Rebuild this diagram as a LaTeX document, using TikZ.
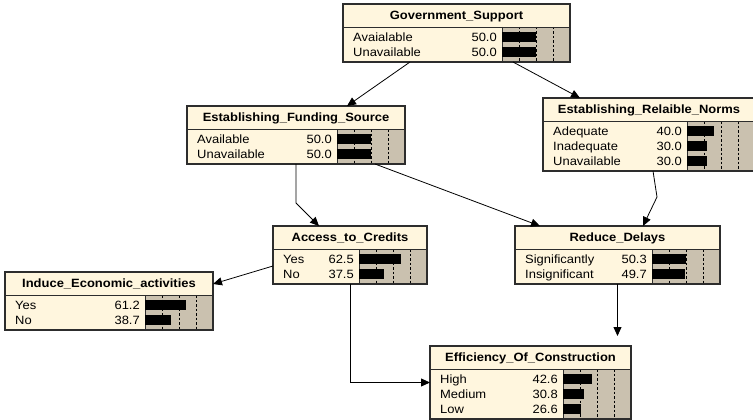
\documentclass[tikz,border=0pt]{standalone}
\usepackage{fontspec}
\setmainfont[FakeStretch=1.08]{Liberation Sans}
\usetikzlibrary{arrows.meta,calc}
\definecolor{cream}{RGB}{255,246,222}
\definecolor{barbgc}{RGB}{202,193,175}
\definecolor{edgec}{RGB}{45,45,45}
\tikzset{
  nbox/.style={fill=cream, inner sep=0pt, outer sep=0pt},
  barbg/.style={fill=barbgc},
  dashline/.style={draw=black, line width=0.6pt, dash pattern=on 2.5pt off 2pt},
  sepline/.style={draw=edgec, line width=0.8pt},
  border/.style={draw=edgec, line width=1.1pt},
  titletext/.style={inner sep=0pt, text height=8.6pt, text depth=0pt, font=\fontsize{12}{14}\selectfont\bfseries},
  labtext/.style={inner sep=0pt, text height=8.6pt, text depth=0pt, font=\fontsize{12}{14}\selectfont},
  conn/.style={draw=black, line width=0.8pt, -{Triangle[length=9pt,width=8pt]}}
}
\newcommand\netnode[7]{%
  \pgfmathsetmacro\nnH{28+15*#5}%
  \pgfmathsetmacro\nnR{#2+#4}%
  \pgfmathsetmacro\nnG{#2+#4-68}%
  \pgfmathsetmacro\nnB{#3+\nnH}%
  \pgfmathsetmacro\nnS{#3+23}%
  \node[nbox, minimum width=#4pt, minimum height=\nnH pt, anchor=north west] (#1) at (#2,#3) {};
  \fill[barbg] (\nnG,\nnS) rectangle (\nnR,\nnB);
  \foreach \f in {0.25,0.5,0.75} \draw[dashline] (\nnG+68*\f,\nnS) -- (\nnG+68*\f,\nnB);
  \draw[sepline] (#2,\nnS) -- (\nnR,\nnS);
  \draw[sepline] (\nnG,\nnS) -- (\nnG,\nnB);
  \node[titletext] at (#2+#4/2,#3+11.5) {#6};
  \foreach \lab/\val [count=\i] in {#7} {
    \pgfmathsetmacro\yy{\nnS+15*\i-5}
    \node[labtext, anchor=west] at (#2+10,\yy) {\lab};
    \node[labtext, anchor=east] at (\nnG-5,\yy) {\val};
    \fill[black] (\nnG,\yy-5) rectangle (\nnG+0.67*\val,\yy+5);
  }
  \draw[border] (#2,#3) rectangle (\nnR,\nnB);
}
\begin{document}
\begin{tikzpicture}[x=1pt,y=-1pt]
\useasboundingbox[fill=white] (0,0) rectangle (753,420);
\netnode{GS}{343}{4}{227}{2}{Government\_Support}{Avaialable/50.0,Unavailable/50.0}
\netnode{EFS}{187}{106}{218}{2}{Establishing\_Funding\_Source}{Available/50.0,Unavailable/50.0}
\netnode{ERN}{543}{98}{212}{3}{Establishing\_Relaible\_Norms}{Adequate/40.0,Inadequate/30.0,Unavailable/30.0}
\netnode{ATC}{273}{226}{154}{2}{Access\_to\_Credits}{Yes/62.5,No/37.5}
\netnode{RD}{515}{226}{205}{2}{Reduce\_Delays}{Significantly/50.3,Insignificant/49.7}
\netnode{IEA}{5}{272}{208}{2}{Induce\_Economic\_activities}{Yes/61.2,No/38.7}
\netnode{EOC}{430}{346}{201}{3}{Efficiency\_Of\_Construction}{High/42.6,Medium/30.8,Low/26.6}
% connectors
\draw[conn] ($(GS.south)+(-46.5,0)$) -- ($(EFS.north)+(51,0)$);
\draw[conn] ($(GS.south)+(56.5,0)$) -- ($(ERN.north)+(-69,0)$);
\draw[conn] (EFS.south) -- ++(0,39) -- ($(ATC.north)+(-31,0)$);
\draw[conn] ($(EFS.south)+(79,0)$) -- ($(RD.north)+(-77.5,0)$);
\draw[conn] ($(ERN.south)+(4,0)$) -- ($(ERN.south)+(8,26)$) -- ($(RD.north)+(25.5,0)$);
\draw[conn] ($(ATC.west)+(0,11)$) -- ($(IEA.east)+(0,-17)$);
\draw[conn] (ATC.south) |- (EOC.west);
\draw[conn, shorten >=10pt] (RD.south) -- (RD.south |- EOC.north);
\end{tikzpicture}
\end{document}
